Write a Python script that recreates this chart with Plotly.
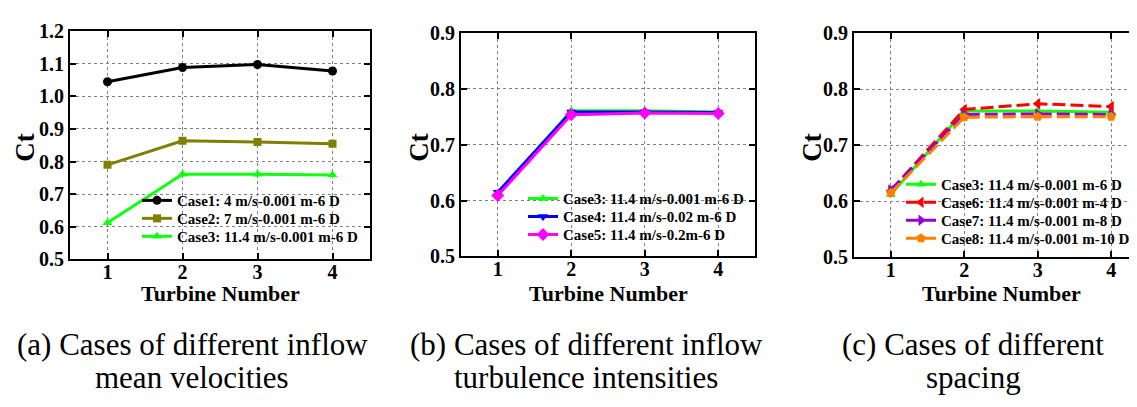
import plotly.graph_objects as go

turbines = [1, 2, 3, 4]

# Panel (a)
case1 = [1.045, 1.089, 1.098, 1.078]
case2 = [0.790, 0.864, 0.860, 0.855]
case3 = [0.612, 0.761, 0.761, 0.759]
# Panel (b)
case4 = [0.615, 0.759, 0.759, 0.758]
case5 = [0.609, 0.754, 0.757, 0.756]
# Panel (c)
case6 = [0.619, 0.764, 0.774, 0.769]
case7 = [0.620, 0.755, 0.756, 0.755]
case8 = [0.615, 0.750, 0.751, 0.751]

names = {
    "c1": "Case1: 4 m/s-0.001 m-6 D",
    "c2": "Case2: 7 m/s-0.001 m-6 D",
    "c3": "Case3: 11.4 m/s-0.001 m-6 D",
    "c4": "Case4: 11.4 m/s-0.02 m-6 D",
    "c5": "Case5: 11.4 m/s-0.2m-6 D",
    "c6": "Case6: 11.4 m/s-0.001 m-4 D",
    "c7": "Case7: 11.4 m/s-0.001 m-8 D",
    "c8": "Case8: 11.4 m/s-0.001 m-10 D",
}

yticks_a = [0.5, 0.6, 0.7, 0.8, 0.9, 1.0, 1.1, 1.2]
yticks_bc = [0.5, 0.6, 0.7, 0.8, 0.9]

SERIF = "Times New Roman, Liberation Serif, DejaVu Serif, serif"
W, H = 1137, 407

GREEN = "#11ff11"
OLIVE = "#808000"
DASH = "13px,5px"

def px_x(p):
    return p / W

def px_y(p):
    return 1 - p / H

fig = go.Figure()
legfont = dict(family=SERIF, size=15, color="black", weight="bold")
legends = {}

def add(y, name, color, symbol, msize, xa, ya, lx, ly, dash="solid"):
    key = "legend" if not legends else "legend%d" % (len(legends) + 1)
    legends[key] = dict(x=px_x(lx), y=px_y(ly - 5), xanchor="left", yanchor="middle",
                        bgcolor="rgba(0,0,0,0)", borderwidth=0, font=legfont,
                        itemwidth=30)
    fig.add_trace(go.Scatter(
        x=turbines, y=y, name=name, mode="lines+markers",
        line=dict(color=color, width=3, dash=dash),
        marker=dict(symbol=symbol, size=msize, color=color),
        xaxis=xa, yaxis=ya, legend=key,
    ))

LA, LB, LC = 129, 515, 893
add(case1, names["c1"], "black", "circle", 9, "x", "y", LA, 197)
add(case2, names["c2"], OLIVE, "square", 8, "x", "y", LA, 216)
add(case3, names["c3"], GREEN, "triangle-up", 9, "x", "y", LA, 235)

add(case3, names["c3"], GREEN, "triangle-up", 9, "x2", "y2", LB, 195)
add(case4, names["c4"], "#0000ff", "triangle-down", 9, "x2", "y2", LB, 214)
add(case5, names["c5"], "#ff00ff", "diamond", 10, "x2", "y2", LB, 233)

add(case3, names["c3"], GREEN, "triangle-up", 9, "x3", "y3", LC, 180)
add(case6, names["c6"], "#ff0000", "triangle-left", 10, "x3", "y3", LC, 199, dash=DASH)
add(case7, names["c7"], "#9400d3", "triangle-right", 10, "x3", "y3", LC, 218, dash=DASH)
add(case8, names["c8"], "#ff8000", "pentagon", 10, "x3", "y3", LC, 237, dash=DASH)

tickfont = dict(family=SERIF, size=20, color="black", weight="bold")
axis_common = dict(
    showline=True, linecolor="black", linewidth=2,
    ticks="inside", ticklen=6, tickwidth=2, tickcolor="black",
    showgrid=True, gridcolor="#808080", gridwidth=1, griddash="dot",
    tickfont=tickfont, zeroline=False,
)

# panel geometry (pixels)
panels = [
    dict(x0=62, x1=362, y0=13, y1=254, xr=[0.5, 4.5], yr=[0.5, 1.2], yt=yticks_a, cx=212),
    dict(x0=453, x1=747, y0=15, y1=251, xr=[0.5, 4.5], yr=[0.5, 0.9], yt=yticks_bc, cx=600),
    dict(x0=846, x1=1137, y0=15, y1=252, xr=[0.5, 4.46], yr=[0.5, 0.9], yt=yticks_bc, cx=993),
]

layout = dict(
    width=W, height=H, margin=dict(l=0, r=0, t=0, b=0),
    plot_bgcolor="white", paper_bgcolor="white",
    showlegend=True,
)
layout.update(legends)
for i, p in enumerate(panels):
    sfx = "" if i == 0 else str(i + 1)
    layout["xaxis" + sfx] = dict(
        axis_common, domain=[px_x(p["x0"]), px_x(p["x1"])], range=p["xr"],
        tickvals=turbines, ticktext=[str(t) for t in turbines],
        anchor="y" + sfx, mirror="ticks", ticklabelstandoff=-6,
    )
    layout["yaxis" + sfx] = dict(
        axis_common, domain=[px_y(p["y1"]), px_y(p["y0"])], range=p["yr"],
        tickvals=p["yt"], ticktext=["%.1f" % v for v in p["yt"]],
        anchor="x" + sfx, mirror=("ticks" if i < 2 else False),
    )

fig.update_layout(**layout)

anns = []
titlefont = dict(family=SERIF, size=22, color="black", weight="bold")
ctfont = dict(family=SERIF, size=27, color="black", weight="bold")
for p, ctx in zip(panels, [17, 411, 804]):
    anns.append(dict(text="Turbine Number", x=px_x(p["cx"]), y=px_y(290),
                     xref="paper", yref="paper", showarrow=False,
                     xanchor="center", yanchor="middle", font=titlefont))
    anns.append(dict(text="Ct", x=px_x(ctx), y=px_y(136), textangle=-90,
                     xref="paper", yref="paper", showarrow=False,
                     xanchor="center", yanchor="middle", font=ctfont))

capfont = dict(family=SERIF, size=31, color="black")
captions = [
    (184, "(a) Cases of different inflow", "mean velocities"),
    (578, "(b) Cases of different inflow", "turbulence intensities"),
    (965, "(c) Cases of different", "spacing"),
]
for cx, l1, l2 in captions:
    for txt, yy in [(l1, 344), (l2, 379)]:
        anns.append(dict(text=txt, x=px_x(cx), y=px_y(yy), xref="paper", yref="paper",
                         showarrow=False, xanchor="center", yanchor="middle", font=capfont))

fig.update_layout(annotations=anns)
fig.write_html("out.html")
